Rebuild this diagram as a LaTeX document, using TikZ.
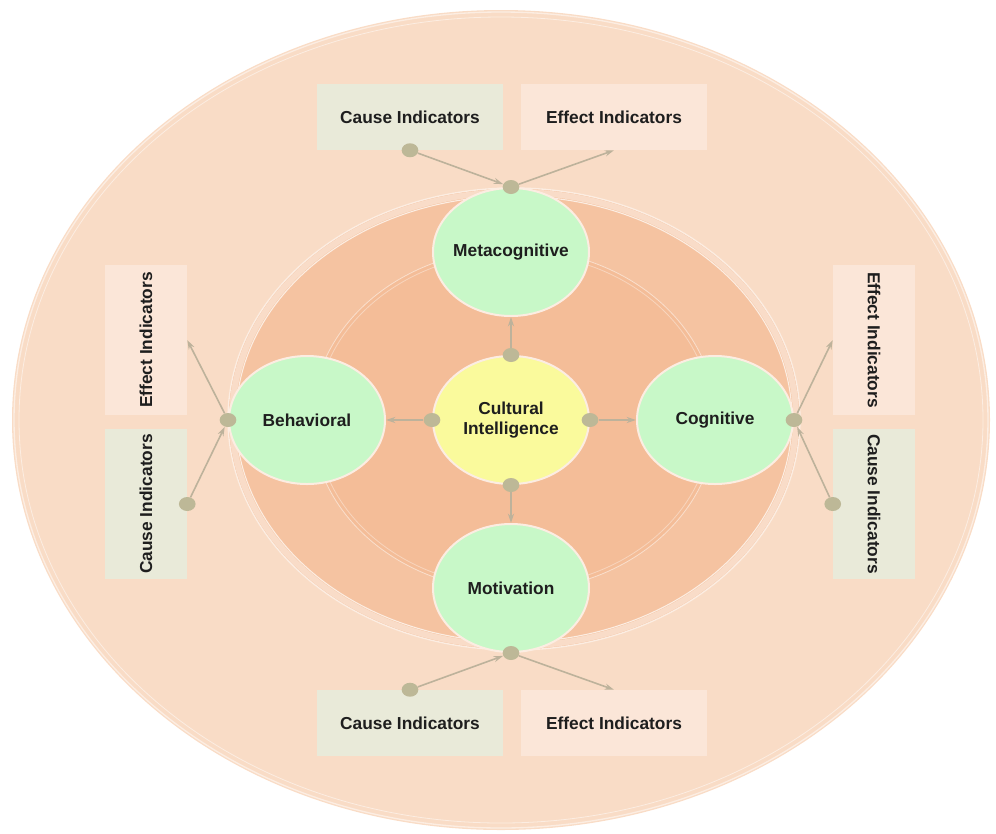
\documentclass[tikz,border=0pt]{standalone}
\usepackage{fontspec}
\setmainfont{Liberation Sans}
\usepackage{graphicx}
\usetikzlibrary{shapes.geometric,arrows.meta}

\definecolor{outerpeach}{HTML}{F9DCC6}
\definecolor{midorange}{HTML}{F5C3A1}
\definecolor{innerorange}{HTML}{F4BD98}
\definecolor{ringline}{HTML}{FCEDE2}
\definecolor{ringband}{HTML}{F9DCC8}
\definecolor{leafgreen}{HTML}{C8F8C8}
\definecolor{sunyellow}{HTML}{FAFA9C}
\definecolor{causefill}{HTML}{E9EAD9}
\definecolor{effectfill}{HTML}{FBE6D8}
\definecolor{dotgray}{HTML}{BDB897}
\definecolor{linkgray}{HTML}{BDB29B}
\definecolor{textgray}{HTML}{1E1E1E}

\begin{document}
\begin{tikzpicture}[x=0.75pt, y=-0.75pt, node distance=153pt,
                    main node/.style={ellipse,draw=ringline,line width=1.5pt,fill=leafgreen,
                      minimum width=117pt,minimum height=96pt,inner xsep=-3pt,inner ysep=0pt,text=textgray,
                      font=\bfseries\fontsize{13}{15}\selectfont},
                    cause box/.style={rectangle,fill=causefill,minimum width=140pt,minimum height=49.5pt,
                      inner sep=0pt,text=textgray,font=\bfseries\fontsize{13}{15}\selectfont},
                    effect box/.style={cause box,fill=effectfill},
                    side box/.style={minimum width=61.5pt,minimum height=113pt},
                    dot node/.style={ellipse,fill=dotgray,minimum width=12.5pt,minimum height=10.5pt,inner sep=0pt},
                    link/.style={-{Stealth[length=7pt,width=4.5pt]},draw=linkgray,line width=1.2pt}]

  \useasboundingbox (0,0) rectangle (996,833);

  % rings
  \fill[outerpeach] (501,420) ellipse [x radius=489, y radius=410];
  \draw[ringline,line width=1pt] (501,420) ellipse [x radius=487, y radius=408];
  \draw[ringline,line width=0.6pt] (501,420) ellipse [x radius=482, y radius=403];
  \fill[midorange] (514,419) ellipse [x radius=286, y radius=231];
  \draw[ringband,line width=4.5pt] (514,419) ellipse [x radius=282, y radius=227];
  \draw[ringline,line width=1pt] (514,419) ellipse [x radius=286, y radius=231];
  \draw[ringline,line width=0.8pt] (514,419) ellipse [x radius=278, y radius=223];
  \fill[innerorange] (514,420) ellipse [x radius=202, y radius=171];
  \draw[ringline,line width=0.6pt,opacity=0.7] (514,420) ellipse [x radius=202, y radius=171];
  \draw[ringline,line width=0.6pt,opacity=0.5] (514,420) ellipse [x radius=198, y radius=167];

  \node[main node,fill=sunyellow,align=center] (1) at (511,420) {Cultural\\Intelligence};
  \node[main node] (2) [above of=1, node distance=126pt] {Metacognitive};
  \node[main node] (3) [right of=1] {Cognitive};
  \node[main node] (4) [below of=1, node distance=126pt] {Motivation};
  \node[main node] (5) [left of=1] {Behavioral};

  \node[cause box] (6) at (410,117) {Cause Indicators};
  \node[effect box] (7) [right of=6] {Effect Indicators};
  \node[cause box] (8) at (410,723) {Cause Indicators};
  \node[effect box] (9) [right of=8] {Effect Indicators};
  \node[effect box,side box] (10) at (146,340) {\rotatebox{90}{Effect Indicators}};
  \node[cause box,side box] (11) [below of=10, node distance=123pt] {\rotatebox{90}{Cause Indicators}};
  \node[effect box,side box] (12) at (874,340) {\rotatebox{-90}{Effect Indicators}};
  \node[cause box,side box] (13) [below of=12, node distance=123pt] {\rotatebox{-90}{Cause Indicators}};

  \node[dot node] (1n) at (1.north) {};
  \node[dot node] (1e) at (1.east) {};
  \node[dot node] (1s) at (1.south) {};
  \node[dot node] (1w) at (1.west) {};
  \node[dot node] (2n) at (2.north) {};
  \node[dot node] (3e) at (3.east) {};
  \node[dot node] (4s) at (4.south) {};
  \node[dot node] (5w) at (5.west) {};
  \node[dot node] (6s) at (6.south) {};
  \node[dot node] (8n) at (8.north) {};
  \node[dot node] (11e) at (11.east) {};
  \node[dot node] (13w) at (13.west) {};

  \draw[link] (1n) -- (2);
  \draw[link] (1e) -- (3);
  \draw[link] (1s) -- (4);
  \draw[link] (1w) -- (5);

  \draw[link] (6s) -- (2n);
  \draw[link] (2n) -- (7.south);
  \draw[link] (8n) -- (4s);
  \draw[link] (4s) -- (9.north);
  \draw[link] (5w) -- (10.east);
  \draw[link] (11e) -- (5w);
  \draw[link] (3e) -- (12.west);
  \draw[link] (13w) -- (3e);

\end{tikzpicture}
\end{document}
